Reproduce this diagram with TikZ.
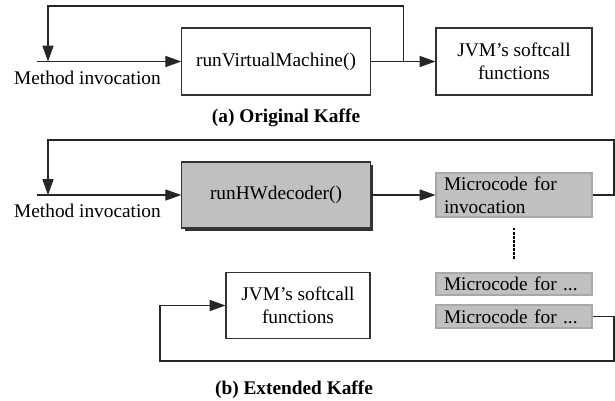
\documentclass[tikz,border=0pt]{standalone}
\usepackage{fontspec}
\setmainfont{Liberation Serif}
\usepackage{tikz}
\usetikzlibrary{arrows.meta,shadows}
\definecolor{boxgray}{HTML}{C0C0C0}
\definecolor{edgegray}{HTML}{A8A8A8}
\tikzset{
  plainbox/.style={draw=black!80,line width=0.6pt,fill=white,align=center,inner sep=0pt},
  hwbox/.style={plainbox,fill=boxgray,drop shadow={shadow xshift=1.8pt,shadow yshift=-1.8pt,fill=black!80,opacity=1}},
  mcbox/.style={draw=edgegray,line width=0.6pt,fill=boxgray,align=left,inner xsep=0.16cm,inner ysep=0pt,text width=2.8cm},
  wire/.style={line width=0.6pt,draw=black!85},
  caption/.style={font=\fontsize{11}{13.2}\selectfont\bfseries}
}

\begin{document}
\begin{tikzpicture}[x=0.02cm,y=-0.02cm,>={Triangle[length=9pt,width=6.3pt]},
    font=\fontsize{11}{13.2}\selectfont]
   \useasboundingbox (0,0) rectangle (615,400);

   % (a) original
   \begin{scope}
     \node[plainbox,minimum width=3.77cm,minimum height=1.34cm] (vm) at (276,61.5) {runVirtualMachine()};
     \node[plainbox,minimum width=3.12cm,minimum height=1.34cm] (jvma) at (514,61.5) {JVM’s softcall\\functions};
     \node (inva) at (87.5,78) {Method invocation};
     \coordinate (ina) at (37,61.5);
     \coordinate (ta) at (48,6);
     \coordinate (ja) at (403.5,61.5);
     \draw[wire,->] (ina) -- (vm.west);
     \draw[wire,->] (vm.east) -- (jvma.west);
     \draw[wire,->] (ja) |- (ta) -- (ta |- ina);
     \node[caption] (capa) at (286,118) {(a) Original Kaffe};
   \end{scope}

   % (b) extended
   \begin{scope}
     \node[hwbox,minimum width=3.77cm,minimum height=1.32cm] (hw) at (276,195) {runHWdecoder()};
     \node[mcbox,minimum height=0.88cm] (mci) at (514,195) {Microcode for\\invocation};
     \node[mcbox,minimum height=0.44cm] (mcx) at (514,284) {Microcode for ...};
     \node[mcbox,minimum height=0.46cm] (mcy) at (514,316.5) {Microcode for ...};
     \node[plainbox,minimum width=2.88cm,minimum height=1.32cm] (jvmb) at (298,305.5) {JVM’s softcall\\functions};
     \node (invb) at (87.5,211) {Method invocation};
     \coordinate (inb) at (37,195);
     \coordinate (tb) at (48,140);
     \coordinate (rb) at (614,140);
     \coordinate (rc) at (614,361);
     \coordinate (lc) at (160,361);
     \coordinate (da) at (514,228);
     \coordinate (db) at (514,259);
     \draw[wire,->] (inb) -- (hw.west);
     \draw[wire,->] (hw.east) -- (mci.west);
     \draw[wire,->] (mci.east) -| (rb) -- (tb) -- (tb |- inb);
     \draw[line width=1.2pt,dash pattern=on 1.4pt off 0.9pt] (da) -- (db);
     \draw[wire,->] (mcy.east) -| (rc) -- (lc) |- (jvmb.west);
     \node[caption] (capb) at (294,390) {(b) Extended Kaffe};
   \end{scope}
\end{tikzpicture}
\end{document}
